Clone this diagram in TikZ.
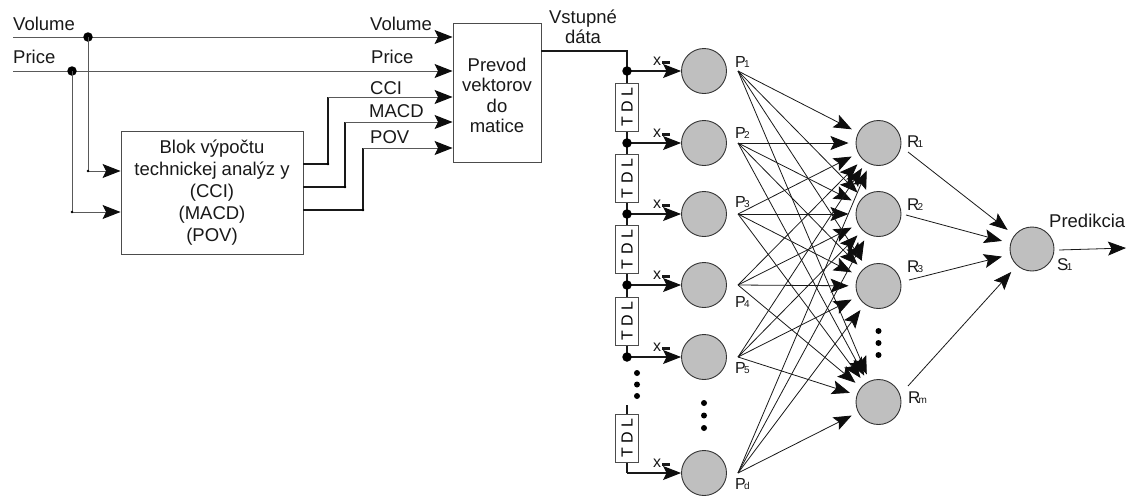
\documentclass[tikz,border=0pt]{standalone}
\usepackage{fontspec}
\setmainfont{Liberation Sans}
\usetikzlibrary{arrows.meta,calc}

% small index digit set close to the letter
\newcommand\idx[1]{\kern-1.8pt{\fontsize{10}{10}\selectfont #1}}

\tikzset{
  arrowhd/.style={-{Stealth[length=18pt,width=14pt,inset=3.5pt,color=black!95]}},
  feed/.style={draw=black!65, line width=1pt},
  wire/.style={draw=black!90, line width=1.4pt},
  conn/.style={draw=black!90, line width=0.8pt},
  box/.style={draw=black!70, line width=0.9pt, fill=white, inner sep=0pt},
  neuron/.style={circle, draw=black!80, line width=0.9pt, fill=black!25,
                 minimum size=45pt, inner sep=0pt},
  junc/.style={circle, fill=black, inner sep=0pt, minimum size=9.5pt},
  knot/.style={circle, fill=black, inner sep=0pt, minimum size=2.6pt},
  vdot/.style={circle, fill=black, inner sep=0pt, minimum size=6pt},
  lbl/.style={font=\fontsize{18.5}{22}\selectfont, inner sep=0pt, text=black!90},
  plbl/.style={font=\fontsize{16}{16}\selectfont, inner sep=0pt, text=black!90, anchor=base west},
  rlbl/.style={font=\fontsize{17}{17}\selectfont, inner sep=0pt, text=black!90, anchor=base west},
  xlbl/.style={font=\fontsize{16}{16}\selectfont, inner sep=0pt, text=black!90},
  tdl/.style={box, rotate=90, minimum width=48pt, minimum height=23pt,
              font=\fontsize{16}{16}\selectfont},
}

\begin{document}
\begin{tikzpicture}[x=1pt,y=-1pt]
\path[use as bounding box] (0,0) rectangle (1127,496);

% ---------- blocks ----------
\node[box, minimum width=182pt, minimum height=123pt] (blok) at (212,192.5) {};
\node[lbl, align=center] (bloktxt) at (212,192.5)
  {Blok výpočtu\\technickej analýz y\\(CCI)\\(MACD)\\(POV)};
\node[box, minimum width=88pt, minimum height=139pt] (prevod) at (497,92.5) {};
\node[lbl, align=center, font=\fontsize{18.5}{20.5}\selectfont] (prevtxt) at (497,95.5)
  {Prevod\\vektorov\\do\\matice};

% ---------- signal labels ----------
\node[lbl, anchor=base west] (lvolL) at (13,30) {Volume};
\node[lbl, anchor=base west] (lpriL) at (13,63) {Price};
\node[lbl, anchor=base west] (lvolR) at (370,30) {Volume};
\node[lbl, anchor=base west] (lpriR) at (371,63) {Price};
\node[lbl, anchor=base west] (lcci) at (370,94) {CCI};
\node[lbl, anchor=base west] (lmacd) at (369,117) {MACD};
\node[lbl, anchor=base west] (lpov) at (370,143) {POV};
\node[lbl, align=center, font=\fontsize{18.5}{20}\selectfont] (lvst) at (583,27) {Vstupné\\dáta};

% ---------- inputs ----------
\coordinate (volL) at (13,37);
\coordinate (priL) at (13,71);
\draw[feed,arrowhd] (volL) -- (prevod.west |- volL);
\draw[feed,arrowhd] (priL) -- (prevod.west |- priL);
\node[junc] (vj) at (88,37) {};
\node[junc] (pj) at (72,71) {};
\coordinate (vb) at (88,171);
\coordinate (pb) at (72,212);
\draw[feed,arrowhd] (vj.center) -- (vb) -- (blok.west |- vb);
\draw[feed,arrowhd] (pj.center) -- (pb) -- (blok.west |- pb);
\node[knot] (vbk) at (vb) {};
\node[knot] (pbk) at (pb) {};

% ---------- indicator outputs ----------
\coordinate (cciK) at (328,164);  \coordinate (cciU) at (328,97);
\coordinate (macK) at (345,187);  \coordinate (macU) at (345,122);
\coordinate (povK) at (363,210);  \coordinate (povU) at (363,148);
\draw[wire] (blok.east |- cciK) -- (cciK) -- (cciU);
\draw[feed,arrowhd] (cciU) -- (prevod.west |- cciU);
\draw[wire] (blok.east |- macK) -- (macK) -- (macU);
\draw[feed,arrowhd] (macU) -- (prevod.west |- macU);
\draw[wire] (blok.east |- povK) -- (povK) -- (povU);
\draw[feed,arrowhd] (povU) -- (prevod.west |- povU);
\node[knot] (ck) at (cciK) {};
\node[knot] (mk) at (macK) {};
\node[knot] (pk) at (povK) {};

% ---------- tapped delay line ----------
\coordinate (vsK) at (627,51);
\coordinate (t1) at (627,71);
\coordinate (t2) at (627,143);
\coordinate (t3) at (627,214);
\coordinate (t4) at (627,285);
\coordinate (t5) at (627,357);
\coordinate (tdA) at (627,405);
\coordinate (tdB) at (627,473);
\draw[wire] (prevod.east |- vsK) -- (vsK) -- (t1);
\draw[conn, line width=1.1pt] (t1) -- (t5);
\draw[conn, line width=1.1pt] (tdA) -- (tdB);
\node[tdl] (d1) at (627,107) {T D L};
\node[tdl] (d2) at (627,178.5) {T D L};
\node[tdl] (d3) at (627,249.5) {T D L};
\node[tdl] (d4) at (627,321) {T D L};
\node[tdl] (d5) at (627,438) {T D L};
\node[vdot] (tv1) at (637,373) {};
\node[vdot] (tv2) at (637,384.5) {};
\node[vdot] (tv3) at (637,396) {};

% ---------- input layer ----------
\foreach \n/\y in {1/71,2/143,3/214,4/285,5/357,d/473}{
  \node[neuron] (p\n) at (704,\y) {};
  \coordinate (po\n) at (738,\y);
}
\foreach \n in {1,2,3,4,5}{
  \draw[conn, line width=1.1pt, arrowhd] (t\n) -- (p\n);
  \node[junc] (j\n) at (t\n) {};
}
\draw[conn, line width=1.1pt, arrowhd] (tdB) -- (pd);
\foreach \n/\y in {1/71,2/143,3/214,4/285,5/357,d/473}{
  \node[xlbl] (x\n) at (657,\y-9.5) {x};
  \fill[black!90] (662,\y-10.5) rectangle (670,\y-7.5);
}
\node[vdot] (pv1) at (704,403) {};
\node[vdot] (pv2) at (704,415.5) {};
\node[vdot] (pv3) at (704,428) {};

\node[plbl] (lp1) at (735,67) {P\idx{1}};
\node[plbl] (lp2) at (735,138) {P\idx{2}};
\node[plbl] (lp3) at (735,207) {P\idx{3}};
\node[plbl] (lp4) at (735,307) {P\idx{4}};
\node[plbl] (lp5) at (735,373) {P\idx{5}};
\node[plbl] (lpd) at (735,489) {P\idx{d}};

% ---------- hidden layer ----------
\foreach \n/\y in {1/143,2/214,3/286,m/402}{
  \node[neuron, outer sep=7.5pt] (r\n) at (878.5,\y) {};
}
\foreach \p in {1,2,3,4,5,d}{
  \foreach \r in {1,2,3,m}{
    \draw[conn, arrowhd] (po\p) -- (r\r);
  }
}
\node[vdot] (rv1) at (878.5,331) {};
\node[vdot] (rv2) at (878.5,343) {};
\node[vdot] (rv3) at (878.5,355) {};
\node[rlbl] (lr1) at (907,147) {R\idx{1}};
\node[rlbl] (lr2) at (907,210) {R\idx{2}};
\node[rlbl] (lr3) at (907,272) {R\idx{3}};
\node[rlbl] (lrm) at (908,403) {R\idx{m}};

% ---------- output neuron ----------
\node[neuron, minimum size=44pt, outer sep=9pt] (s1) at (1032,249) {};
\coordinate (ro1) at (908,152);
\coordinate (ro2) at (906,215);
\coordinate (ro3) at (909,280);
\coordinate (rom) at (908,386);
\foreach \r in {1,2,3,m}{
  \draw[conn, arrowhd] (ro\r) -- (s1);
}
\node[rlbl] (ls1) at (1057,270) {S\idx{1}};
\coordinate (so) at (1059,250);
\coordinate (pred) at (1126,248);
\draw[conn, arrowhd] (so) -- (pred);
\node[lbl, anchor=base west] (lpred) at (1049,227) {Predikcia};
\end{tikzpicture}
\end{document}
